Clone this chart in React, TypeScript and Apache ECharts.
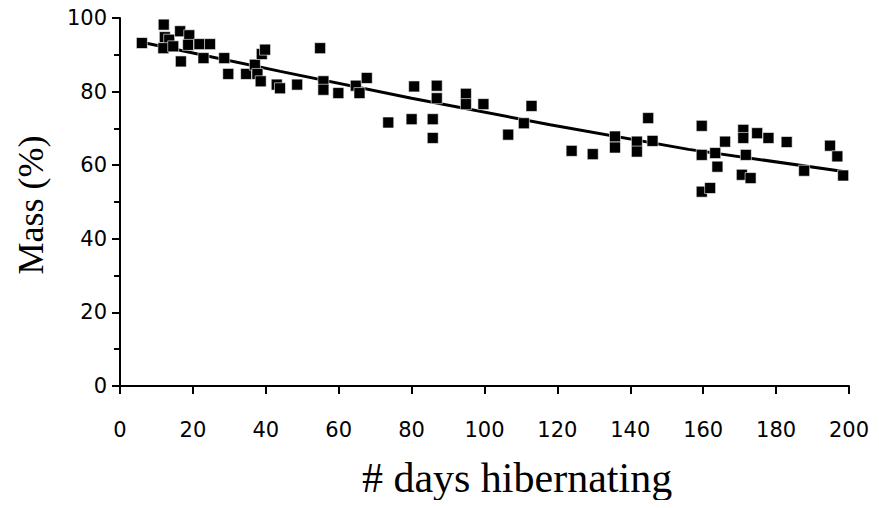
import React, { useEffect, useRef } from "react";
import * as echarts from "echarts";

const xTicks = [0, 20, 40, 60, 80, 100, 120, 140, 160, 180, 200];
const yTicks = [0, 20, 40, 60, 80, 100];

const daysHibernating = [
  6, 12, 12.3, 13.5, 11.9, 14.6, 16.5, 19.0, 18.7, 16.7, 21.8, 24.7, 22.9, 28.6,
  29.7, 34.6, 37.0, 37.7, 38.9, 39.8, 38.6, 43.0, 43.9, 48.6, 54.9, 55.8, 55.8,
  59.9, 64.7, 65.7, 67.7, 73.6, 80.7, 86.9, 86.9, 80.0, 85.8, 85.8, 94.9, 94.9,
  99.7, 106.5, 110.8, 112.9, 123.9, 129.7, 135.8, 135.8, 141.8, 141.8, 144.9,
  146.1, 159.6, 159.6, 159.6, 161.9, 163.3, 163.9, 166.0, 171.0, 171.0, 171.7,
  170.6, 173.0, 174.8, 177.9, 182.9, 187.7, 194.8, 196.8, 198.4,
];
const massPercent = [
  93.2, 98.2, 94.8, 94.1, 91.8, 92.3, 96.4, 95.3, 92.7, 88.2, 92.9, 92.9, 89.1,
  89.1, 84.8, 84.8, 87.3, 84.8, 90.2, 91.4, 82.8, 81.9, 80.9, 81.9, 91.8, 82.8,
  80.5, 79.6, 81.6, 79.6, 83.7, 71.6, 81.4, 81.6, 78.2, 72.5, 72.5, 67.4, 79.4,
  76.6, 76.6, 68.3, 71.4, 76.1, 63.9, 63.0, 67.8, 64.8, 66.4, 63.7, 72.8, 66.6,
  70.7, 62.8, 52.8, 53.8, 63.3, 59.6, 66.4, 69.6, 67.4, 62.8, 57.4, 56.5, 68.7,
  67.4, 66.3, 58.5, 65.3, 62.4, 57.2,
];

const fitX = [5, 44, 80, 118, 156, 199];
const fitY = [93.6, 85.5, 78.2, 71.0, 64.3, 58.2];

export default function App() {
  const ref = useRef<HTMLDivElement>(null);
  useEffect(() => {
    if (!ref.current) return;
    const chart = echarts.init(ref.current, undefined, { renderer: "svg" });
    const labelFont = "DejaVu Sans";
    chart.setOption({
      animation: false,
      backgroundColor: "#ffffff",
      grid: { left: 120, right: 30, top: 18, bottom: 122, containLabel: false },
      xAxis: {
        type: "value",
        min: xTicks[0],
        max: xTicks[xTicks.length - 1],
        interval: 20,
        axisLine: { show: true, lineStyle: { color: "#000", width: 2 } },
        axisTick: { show: true, inside: false, length: 8, lineStyle: { color: "#000", width: 2 } },
        axisLabel: { color: "#000", fontSize: 21, fontFamily: labelFont, margin: 33 },
        splitLine: { show: false },
      },
      yAxis: {
        type: "value",
        min: yTicks[0],
        max: yTicks[yTicks.length - 1],
        interval: 20,
        axisLine: { show: true, lineStyle: { color: "#000", width: 2 } },
        axisTick: { show: true, inside: false, length: 8, lineStyle: { color: "#000", width: 2 } },
        minorTick: { show: true, splitNumber: 2, length: 6, lineStyle: { color: "#000", width: 2 } },
        axisLabel: { color: "#000", fontSize: 21, fontFamily: labelFont, margin: 13 },
        splitLine: { show: false },
      },
      series: [
        {
          type: "line",
          data: fitX.map((x, i) => [x, fitY[i]]),
          showSymbol: false,
          symbol: "none",
          lineStyle: { color: "#000", width: 3 },
          z: 3,
        },
        {
          type: "scatter",
          data: daysHibernating.map((x, i) => [x, massPercent[i]]),
          symbol: "rect",
          symbolSize: 11,
          itemStyle: { color: "#000", borderColor: "#fff", borderWidth: 0.6, opacity: 1 },
          z: 4,
        },
      ],
      graphic: [
        {
          type: "text",
          x: 517,
          y: 478,
          style: {
            text: "# days hibernating",
            fontFamily: "Liberation Serif",
            fontSize: 42,
            fill: "#000",
            align: "center",
            verticalAlign: "middle",
          },
        },
        {
          type: "text",
          x: 31,
          y: 205,
          rotation: Math.PI / 2,
          style: {
            text: "Mass (%)",
            fontFamily: "Liberation Serif",
            fontSize: 36,
            fill: "#000",
            align: "center",
            verticalAlign: "middle",
          },
        },
      ],
    });
    return () => chart.dispose();
  }, []);
  return <div ref={ref} style={{ width: 879, height: 508, margin: -8 }} />;
}
